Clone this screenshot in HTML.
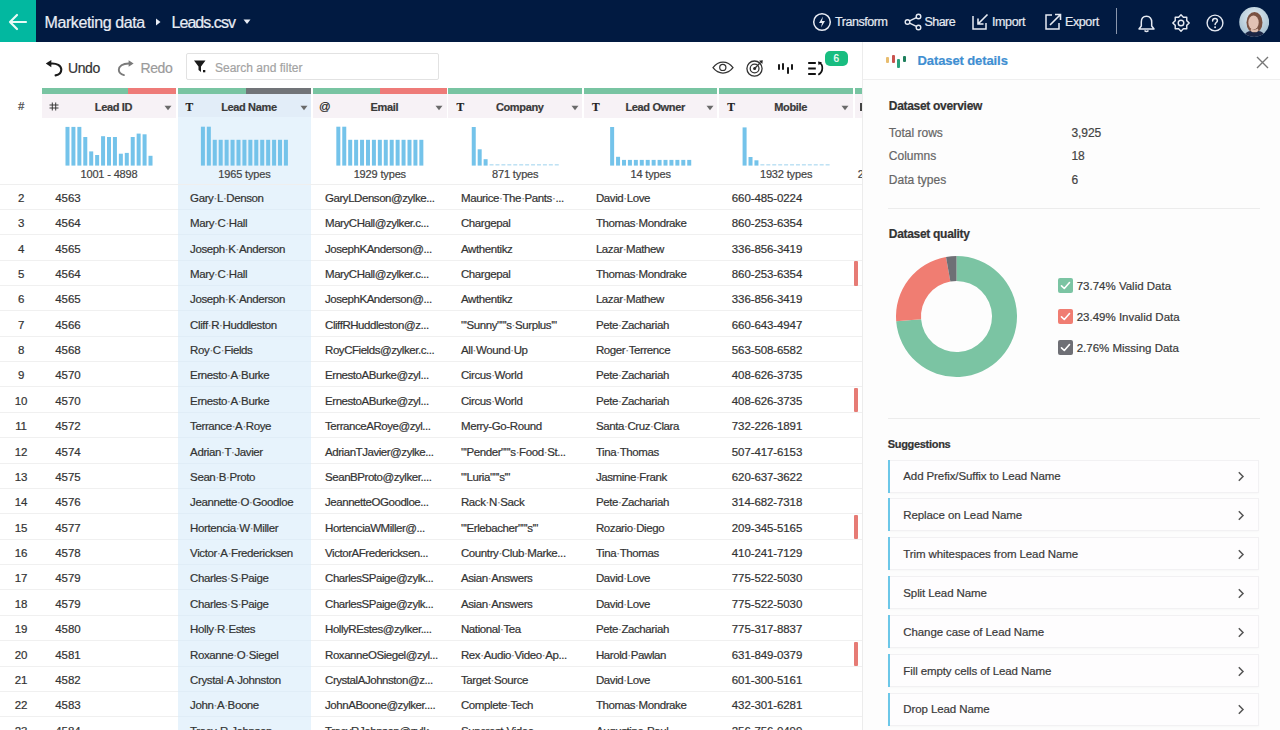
<!DOCTYPE html>
<html><head><meta charset="utf-8"><title>Leads.csv</title>
<style>
html,body{margin:0;padding:0;width:1280px;height:730px;overflow:hidden;background:#fff;font-family:"Liberation Sans", sans-serif;}
.r{position:absolute;}
.t{position:absolute;white-space:nowrap;font-family:"Liberation Sans", sans-serif;-webkit-text-stroke:0.2px currentColor;}
.d{color:#888;}
</style></head><body>
<div class="r" style="left:0.00px;top:0.00px;width:1280.00px;height:42.00px;background:#011a41;"></div><div class="r" style="left:0.00px;top:0.00px;width:36.00px;height:42.00px;background:#02b8a0;"></div><svg class="r" style="left:8px;top:13px" width="20" height="18" viewBox="0 0 20 18"><path d="M2 9 H18 M9 2 L2 9 L9 16" fill="none" stroke="#e8fbf6" stroke-width="2.2" stroke-linecap="round" stroke-linejoin="round"/></svg><div class="t" style="left:44.50px;top:15.36px;font-size:16px;line-height:16px;color:#e9edf5;letter-spacing:-0.4px;">Marketing data</div><svg class="r" style="left:154px;top:17px" width="8" height="10" viewBox="0 0 8 10"><path d="M2 1.5 L6.5 5 L2 8.5Z" fill="#e9edf5"/></svg><div class="t" style="left:171.50px;top:15.36px;font-size:16px;line-height:16px;color:#e9edf5;letter-spacing:-0.95px;">Leads.csv</div><svg class="r" style="left:242px;top:18px" width="10" height="8" viewBox="0 0 10 8"><path d="M1.5 1.5 H8.5 L5 6Z" fill="#e9edf5"/></svg><svg class="r" style="left:812px;top:12px" width="20" height="20" viewBox="0 0 20 20"><circle cx="10" cy="10" r="8.3" fill="none" stroke="#e6eaf2" stroke-width="1.5"/><path d="M11 4.5 L7 11 H10 L9 15.5 L13 9 H10Z" fill="#e6eaf2"/></svg><div class="t" style="left:835.00px;top:16.02px;font-size:12.5px;line-height:12.5px;color:#e6eaf2;letter-spacing:-0.45px;">Transform</div><svg class="r" style="left:904px;top:13px" width="19" height="18" viewBox="0 0 19 18"><circle cx="14.5" cy="3.5" r="2.3" fill="none" stroke="#e6eaf2" stroke-width="1.4"/><circle cx="14.5" cy="14.5" r="2.3" fill="none" stroke="#e6eaf2" stroke-width="1.4"/><circle cx="3.5" cy="9" r="2.3" fill="none" stroke="#e6eaf2" stroke-width="1.4"/><path d="M5.6 7.9 L12.4 4.6 M5.6 10.1 L12.4 13.4" stroke="#e6eaf2" stroke-width="1.4"/></svg><div class="t" style="left:924.50px;top:16.02px;font-size:12.5px;line-height:12.5px;color:#e6eaf2;letter-spacing:-0.55px;">Share</div><svg class="r" style="left:972px;top:13px" width="17" height="17" viewBox="0 0 17 17"><path d="M1 3 V16 H14 V10" fill="none" stroke="#e6eaf2" stroke-width="1.5"/><path d="M15.5 1.5 L6 11 M6 5.5 V11 H11.5" fill="none" stroke="#e6eaf2" stroke-width="1.6"/></svg><div class="t" style="left:992.00px;top:16.02px;font-size:12.5px;line-height:12.5px;color:#e6eaf2;letter-spacing:-0.4px;">Import</div><svg class="r" style="left:1045px;top:13px" width="17" height="17" viewBox="0 0 17 17"><path d="M7 2 H1 V16 H14 V10" fill="none" stroke="#e6eaf2" stroke-width="1.5"/><path d="M5 12 L15.5 1.5 M10 1.5 H15.5 V7" fill="none" stroke="#e6eaf2" stroke-width="1.6"/></svg><div class="t" style="left:1065.00px;top:16.02px;font-size:12.5px;line-height:12.5px;color:#e6eaf2;letter-spacing:-0.4px;">Export</div><div class="r" style="left:1116.00px;top:8.00px;width:1.30px;height:26.00px;background:#8a96ac;"></div><svg class="r" style="left:1137px;top:14.5px" width="19" height="18" viewBox="0 0 19 18"><path d="M9.5 1.2 C6 1.2 4.3 3.8 4.3 7 V11 L2 14 H17 L14.7 11 V7 C14.7 3.8 13 1.2 9.5 1.2Z" fill="none" stroke="#e6eaf2" stroke-width="1.5" stroke-linejoin="round"/><path d="M7.5 15.5 Q9.5 17.5 11.5 15.5" fill="none" stroke="#e6eaf2" stroke-width="1.5"/></svg><svg class="r" style="left:1171.5px;top:14px" width="18" height="18" viewBox="0 0 18 18"><polygon points="9.00,0.80 11.37,3.27 14.80,3.20 14.73,6.63 17.20,9.00 14.73,11.37 14.80,14.80 11.37,14.73 9.00,17.20 6.63,14.73 3.20,14.80 3.27,11.37 0.80,9.00 3.27,6.63 3.20,3.20 6.63,3.27" fill="none" stroke="#e6eaf2" stroke-width="1.4" stroke-linejoin="round"/><circle cx="9" cy="9" r="2.8" fill="none" stroke="#e6eaf2" stroke-width="1.4"/></svg><svg class="r" style="left:1205.5px;top:14px" width="18" height="18" viewBox="0 0 18 18"><circle cx="9" cy="9" r="7.9" fill="none" stroke="#e6eaf2" stroke-width="1.4"/><path d="M6.6 7 C6.6 5.3 7.7 4.5 9 4.5 C10.4 4.5 11.4 5.4 11.4 6.7 C11.4 8.4 9.1 8.6 9.1 10.6" fill="none" stroke="#e6eaf2" stroke-width="1.5" stroke-linecap="round"/><circle cx="9.1" cy="13.2" r="0.95" fill="#e6eaf2"/></svg><svg class="r" style="left:1239px;top:7px" width="30" height="30" viewBox="0 0 30 30"><defs><clipPath id="av"><circle cx="15.2" cy="15" r="15"/></clipPath><radialGradient id="avbg" cx="0.5" cy="0.35" r="0.6"><stop offset="0" stop-color="#e6eef2"/><stop offset="1" stop-color="#a9c2d2"/></radialGradient></defs><g clip-path="url(#av)"><rect width="30" height="30" fill="url(#avbg)"/><ellipse cx="15.5" cy="15.5" rx="8" ry="10.5" fill="#7a5242"/><ellipse cx="14.5" cy="15.5" rx="5.2" ry="7" fill="#e2c2b4"/><path d="M12 21 Q15 24 19 21.5 L19.5 25 H11.5Z" fill="#dcbcae"/><path d="M4 31 Q6 24.5 11.5 24 Q15.5 27 19.5 24 Q25 24.5 27 31Z" fill="#1b2545"/></g></svg><div class="r" style="left:0.00px;top:42.00px;width:862.00px;height:46.00px;background:#ffffff;"></div><svg class="r" style="left:40px;top:54px" width="100" height="28" viewBox="40 54 100 28"><path d="M45.8 63.6 L51.3 60 L51.3 67.2Z" fill="#1a1a1a"/><path d="M50 63.6 C57 62.8 61.3 65.8 61.3 69.6 C61.3 72.8 58.8 75 55.6 75.4" fill="none" stroke="#1a1a1a" stroke-width="2.1" stroke-linecap="round"/><path d="M133.6 63.5 L128.6 60.2 L128.6 66.8Z" fill="#7a7a7a"/><path d="M129.5 63.5 C122.5 63.2 118.8 66.5 118.8 69.8 C118.8 72.3 120.8 74.2 124 75.1" fill="none" stroke="#7a7a7a" stroke-width="1.9" stroke-linecap="round"/></svg><div class="t" style="left:68.00px;top:60.95px;font-size:14px;line-height:14px;color:#333;letter-spacing:-0.4px;">Undo</div><div class="t" style="left:140.50px;top:60.95px;font-size:14px;line-height:14px;color:#9b9b9b;letter-spacing:-0.4px;">Redo</div><div class="r" style="left:186.00px;top:53.00px;width:253.00px;height:27.00px;background:#fff;border:1px solid #e2e2e2;box-sizing:border-box;border-radius:2px;"></div><svg class="r" style="left:193px;top:59px" width="15" height="15" viewBox="0 0 15 15"><path d="M1 1.5 H12.5 L8 7.5 V13 L5.5 11 V7.5Z" fill="#1a1a1a"/><rect x="10" y="11" width="2.3" height="2.3" fill="#1a1a1a"/></svg><div class="t" style="left:215.00px;top:61.64px;font-size:12px;line-height:12px;color:#a3a3a3;">Search and filter</div><svg class="r" style="left:708px;top:54px" width="60" height="26" viewBox="0 0 60 26"><path d="M5 13.6 C8.5 9 11.5 8.2 15 8.2 C18.5 8.2 21.5 9 25 13.6 C21.5 18.2 18.5 19 15 19 C11.5 19 8.5 18.2 5 13.6Z" fill="none" stroke="#333" stroke-width="1.25"/><circle cx="14.8" cy="13.4" r="3.1" fill="none" stroke="#333" stroke-width="1.2"/><circle cx="46.5" cy="14.6" r="7.6" fill="none" stroke="#333" stroke-width="1.3"/><circle cx="46.6" cy="14.5" r="4.4" fill="none" stroke="#333" stroke-width="1.3"/><circle cx="46.6" cy="14.5" r="1.5" fill="#222"/><path d="M46.6 14.5 L52.5 8.5" stroke="#333" stroke-width="1.3"/><path d="M51 6.8 L54.8 6.3 L54.3 10 Z" fill="#222"/></svg><div class="r" style="left:777.60px;top:64.20px;width:2.20px;height:6.30px;background:#1a1a1a;border-radius:1px;"></div><div class="r" style="left:782.20px;top:63.40px;width:2.20px;height:7.10px;background:#1a1a1a;border-radius:1px;"></div><div class="r" style="left:786.50px;top:67.00px;width:2.20px;height:6.90px;background:#1a1a1a;border-radius:1px;"></div><div class="r" style="left:791.00px;top:63.90px;width:2.20px;height:6.10px;background:#1a1a1a;border-radius:1px;"></div><svg class="r" style="left:807px;top:61px" width="18" height="15" viewBox="0 0 18 15"><rect x="1.2" y="1" width="7.6" height="2" fill="#111"/><rect x="1.2" y="6.5" width="7.6" height="2" fill="#111"/><rect x="1.2" y="12" width="7.6" height="2" fill="#111"/><path d="M12.3 1.8 C16.2 3.3 16.8 10.5 11.3 13.8" fill="none" stroke="#111" stroke-width="1.7"/><path d="M11 0.4 L15 1.3 L11.6 4.2 Z" fill="#111"/></svg><div class="r" style="left:824.50px;top:51.00px;width:23.50px;height:15.00px;background:#18bd80;border-radius:5px;"></div><div class="t" style="left:636.30px;width:400px;text-align:center;top:54.03px;font-size:10px;line-height:10px;color:#ffffff;">6</div><div class="r" style="left:42.20px;top:88.00px;width:85.50px;height:6.00px;background:#78c4a2;"></div><div class="r" style="left:127.70px;top:88.00px;width:48.10px;height:6.00px;background:#ee7b78;"></div><div class="r" style="left:42.20px;top:94.00px;width:133.60px;height:23.80px;background:#f7f2f6;"></div><div class="r" style="left:177.62px;top:88.00px;width:68.80px;height:6.00px;background:#78c4a2;"></div><div class="r" style="left:246.42px;top:88.00px;width:64.80px;height:6.00px;background:#717478;"></div><div class="r" style="left:177.62px;top:94.00px;width:133.60px;height:23.80px;background:#e2edf8;"></div><div class="r" style="left:313.04px;top:88.00px;width:66.80px;height:6.00px;background:#78c4a2;"></div><div class="r" style="left:379.84px;top:88.00px;width:66.80px;height:6.00px;background:#ee7b78;"></div><div class="r" style="left:313.04px;top:94.00px;width:133.60px;height:23.80px;background:#f7f2f6;"></div><div class="r" style="left:448.46px;top:88.00px;width:133.60px;height:6.00px;background:#78c4a2;"></div><div class="r" style="left:448.46px;top:94.00px;width:133.60px;height:23.80px;background:#f7f2f6;"></div><div class="r" style="left:583.88px;top:88.00px;width:133.60px;height:6.00px;background:#78c4a2;"></div><div class="r" style="left:583.88px;top:94.00px;width:133.60px;height:23.80px;background:#f7f2f6;"></div><div class="r" style="left:719.30px;top:88.00px;width:133.60px;height:6.00px;background:#78c4a2;"></div><div class="r" style="left:719.30px;top:94.00px;width:133.60px;height:23.80px;background:#f7f2f6;"></div><div class="r" style="left:854.72px;top:88.00px;width:7.28px;height:6.00px;background:#78c4a2;"></div><div class="r" style="left:854.72px;top:94.00px;width:7.28px;height:23.80px;background:#f7f2f6;"></div><div class="r" style="left:177.62px;top:117.00px;width:133.60px;height:613.00px;background:#e7f3fc;"></div><div class="r" style="left:0.00px;top:94.00px;width:42.20px;height:23.00px;background:#fff;"></div><div class="t" style="left:-179.00px;width:400px;text-align:center;top:100.89px;font-size:11px;line-height:11px;color:#444;font-style:italic;">#</div><svg class="r" style="left:49.20px;top:102px" width="10" height="9" viewBox="0 0 10 9"><path d="M3.3 0.5 V8.5 M6.7 0.5 V8.5 M0.5 3 H9.5 M0.5 6 H9.5" stroke="#333" stroke-width="0.95"/></svg><div class="t" style="left:-86.50px;width:400px;text-align:center;top:101.79px;font-size:11px;line-height:11px;color:#3a3a3a;font-weight:700;letter-spacing:-0.35px;">Lead ID</div><svg class="r" style="left:164.30px;top:105px" width="8" height="6" viewBox="0 0 8 6"><path d="M0.5 0.8 H7.5 L4 5.2Z" fill="#6a6a6a"/></svg><div class="t" style="left:185.62px;top:101.67px;font-size:11.5px;line-height:11.5px;color:#222;font-weight:700;font-family:'Liberation Serif',serif;">T</div><div class="t" style="left:48.92px;width:400px;text-align:center;top:101.79px;font-size:11px;line-height:11px;color:#3a3a3a;font-weight:700;letter-spacing:-0.35px;">Lead Name</div><svg class="r" style="left:299.72px;top:105px" width="8" height="6" viewBox="0 0 8 6"><path d="M0.5 0.8 H7.5 L4 5.2Z" fill="#6a6a6a"/></svg><div class="t" style="left:319.04px;top:101.07px;font-size:11.5px;line-height:11.5px;color:#222;">@</div><div class="t" style="left:184.34px;width:400px;text-align:center;top:101.79px;font-size:11px;line-height:11px;color:#3a3a3a;font-weight:700;letter-spacing:-0.35px;">Email</div><svg class="r" style="left:435.14px;top:105px" width="8" height="6" viewBox="0 0 8 6"><path d="M0.5 0.8 H7.5 L4 5.2Z" fill="#6a6a6a"/></svg><div class="t" style="left:456.46px;top:101.67px;font-size:11.5px;line-height:11.5px;color:#222;font-weight:700;font-family:'Liberation Serif',serif;">T</div><div class="t" style="left:319.76px;width:400px;text-align:center;top:101.79px;font-size:11px;line-height:11px;color:#3a3a3a;font-weight:700;letter-spacing:-0.35px;">Company</div><svg class="r" style="left:570.56px;top:105px" width="8" height="6" viewBox="0 0 8 6"><path d="M0.5 0.8 H7.5 L4 5.2Z" fill="#6a6a6a"/></svg><div class="t" style="left:591.88px;top:101.67px;font-size:11.5px;line-height:11.5px;color:#222;font-weight:700;font-family:'Liberation Serif',serif;">T</div><div class="t" style="left:455.18px;width:400px;text-align:center;top:101.79px;font-size:11px;line-height:11px;color:#3a3a3a;font-weight:700;letter-spacing:-0.35px;">Lead Owner</div><svg class="r" style="left:705.98px;top:105px" width="8" height="6" viewBox="0 0 8 6"><path d="M0.5 0.8 H7.5 L4 5.2Z" fill="#6a6a6a"/></svg><div class="t" style="left:727.30px;top:101.67px;font-size:11.5px;line-height:11.5px;color:#222;font-weight:700;font-family:'Liberation Serif',serif;">T</div><div class="t" style="left:590.60px;width:400px;text-align:center;top:101.79px;font-size:11px;line-height:11px;color:#3a3a3a;font-weight:700;letter-spacing:-0.35px;">Mobile</div><svg class="r" style="left:841.40px;top:105px" width="8" height="6" viewBox="0 0 8 6"><path d="M0.5 0.8 H7.5 L4 5.2Z" fill="#6a6a6a"/></svg><div class="t" style="left:862.72px;top:101.67px;font-size:11.5px;line-height:11.5px;color:#222;font-weight:700;font-family:'Liberation Serif',serif;">T</div><svg class="r" style="left:40px;top:120px" width="822" height="50" viewBox="0 0 822 50"><rect x="25.49" y="6.90" width="4" height="38.70" fill="#74c3ea"/><rect x="31.42" y="6.90" width="4" height="38.70" fill="#74c3ea"/><rect x="37.35" y="6.90" width="4" height="38.70" fill="#74c3ea"/><rect x="43.28" y="17.00" width="4" height="28.60" fill="#74c3ea"/><rect x="49.21" y="31.40" width="4" height="14.20" fill="#74c3ea"/><rect x="55.14" y="35.00" width="4" height="10.60" fill="#74c3ea"/><rect x="61.07" y="16.20" width="4" height="29.40" fill="#74c3ea"/><rect x="67.00" y="17.00" width="4" height="28.60" fill="#74c3ea"/><rect x="72.93" y="17.00" width="4" height="28.60" fill="#74c3ea"/><rect x="78.86" y="33.70" width="4" height="11.90" fill="#74c3ea"/><rect x="84.79" y="32.90" width="4" height="12.70" fill="#74c3ea"/><rect x="90.72" y="17.00" width="4" height="28.60" fill="#74c3ea"/><rect x="96.65" y="13.60" width="4" height="32.00" fill="#74c3ea"/><rect x="102.58" y="14.30" width="4" height="31.30" fill="#74c3ea"/><rect x="108.51" y="35.80" width="4" height="9.80" fill="#74c3ea"/></svg><div class="t" style="left:-91.00px;width:400px;text-align:center;top:168.89px;font-size:11px;line-height:11px;color:#444;letter-spacing:-0.15px;">1001 - 4898</div><svg class="r" style="left:40px;top:120px" width="822" height="50" viewBox="0 0 822 50"><rect x="160.91" y="6.70" width="4" height="38.90" fill="#74c3ea"/><rect x="166.84" y="6.70" width="4" height="38.90" fill="#74c3ea"/><rect x="172.77" y="19.80" width="4" height="25.80" fill="#74c3ea"/><rect x="178.70" y="19.80" width="4" height="25.80" fill="#74c3ea"/><rect x="184.63" y="19.80" width="4" height="25.80" fill="#74c3ea"/><rect x="190.56" y="19.80" width="4" height="25.80" fill="#74c3ea"/><rect x="196.49" y="19.80" width="4" height="25.80" fill="#74c3ea"/><rect x="202.42" y="19.80" width="4" height="25.80" fill="#74c3ea"/><rect x="208.35" y="19.80" width="4" height="25.80" fill="#74c3ea"/><rect x="214.28" y="19.80" width="4" height="25.80" fill="#74c3ea"/><rect x="220.21" y="19.80" width="4" height="25.80" fill="#74c3ea"/><rect x="226.14" y="19.80" width="4" height="25.80" fill="#74c3ea"/><rect x="232.07" y="19.80" width="4" height="25.80" fill="#74c3ea"/><rect x="238.00" y="19.80" width="4" height="25.80" fill="#74c3ea"/><rect x="243.93" y="19.80" width="4" height="25.80" fill="#74c3ea"/></svg><div class="t" style="left:44.42px;width:400px;text-align:center;top:168.89px;font-size:11px;line-height:11px;color:#444;letter-spacing:-0.15px;">1965 types</div><svg class="r" style="left:40px;top:120px" width="822" height="50" viewBox="0 0 822 50"><rect x="296.33" y="6.70" width="4" height="38.90" fill="#74c3ea"/><rect x="302.26" y="6.70" width="4" height="38.90" fill="#74c3ea"/><rect x="308.19" y="19.80" width="4" height="25.80" fill="#74c3ea"/><rect x="314.12" y="19.80" width="4" height="25.80" fill="#74c3ea"/><rect x="320.05" y="19.80" width="4" height="25.80" fill="#74c3ea"/><rect x="325.98" y="19.80" width="4" height="25.80" fill="#74c3ea"/><rect x="331.91" y="19.80" width="4" height="25.80" fill="#74c3ea"/><rect x="337.84" y="19.80" width="4" height="25.80" fill="#74c3ea"/><rect x="343.77" y="19.80" width="4" height="25.80" fill="#74c3ea"/><rect x="349.70" y="19.80" width="4" height="25.80" fill="#74c3ea"/><rect x="355.63" y="19.80" width="4" height="25.80" fill="#74c3ea"/><rect x="361.56" y="19.80" width="4" height="25.80" fill="#74c3ea"/><rect x="367.49" y="19.80" width="4" height="25.80" fill="#74c3ea"/><rect x="373.42" y="19.80" width="4" height="25.80" fill="#74c3ea"/><rect x="379.35" y="19.80" width="4" height="25.80" fill="#74c3ea"/></svg><div class="t" style="left:179.84px;width:400px;text-align:center;top:168.89px;font-size:11px;line-height:11px;color:#444;letter-spacing:-0.15px;">1929 types</div><svg class="r" style="left:40px;top:120px" width="822" height="50" viewBox="0 0 822 50"><rect x="431.75" y="7.00" width="4" height="38.60" fill="#74c3ea"/><rect x="437.68" y="29.30" width="4" height="16.30" fill="#74c3ea"/><rect x="443.61" y="39.20" width="4" height="6.40" fill="#74c3ea"/><rect x="449.54" y="44.3" width="4" height="1.1" fill="#a6d6ef"/><rect x="455.47" y="44.3" width="4" height="1.1" fill="#a6d6ef"/><rect x="461.40" y="44.3" width="4" height="1.1" fill="#a6d6ef"/><rect x="467.33" y="44.3" width="4" height="1.1" fill="#a6d6ef"/><rect x="473.26" y="44.3" width="4" height="1.1" fill="#a6d6ef"/><rect x="479.19" y="44.3" width="4" height="1.1" fill="#a6d6ef"/><rect x="485.12" y="44.3" width="4" height="1.1" fill="#a6d6ef"/><rect x="491.05" y="44.3" width="4" height="1.1" fill="#a6d6ef"/><rect x="496.98" y="44.3" width="4" height="1.1" fill="#a6d6ef"/><rect x="502.91" y="44.3" width="4" height="1.1" fill="#a6d6ef"/><rect x="508.84" y="44.3" width="4" height="1.1" fill="#a6d6ef"/><rect x="514.77" y="44.3" width="4" height="1.1" fill="#a6d6ef"/></svg><div class="t" style="left:315.26px;width:400px;text-align:center;top:168.89px;font-size:11px;line-height:11px;color:#444;letter-spacing:-0.15px;">871 types</div><svg class="r" style="left:40px;top:120px" width="822" height="50" viewBox="0 0 822 50"><rect x="570.13" y="7.00" width="4" height="38.60" fill="#74c3ea"/><rect x="576.06" y="36.80" width="4" height="8.80" fill="#74c3ea"/><rect x="582.00" y="39.90" width="4" height="5.70" fill="#74c3ea"/><rect x="587.92" y="39.90" width="4" height="5.70" fill="#74c3ea"/><rect x="593.86" y="39.90" width="4" height="5.70" fill="#74c3ea"/><rect x="599.78" y="39.90" width="4" height="5.70" fill="#74c3ea"/><rect x="605.72" y="39.90" width="4" height="5.70" fill="#74c3ea"/><rect x="611.64" y="39.90" width="4" height="5.70" fill="#74c3ea"/><rect x="617.58" y="39.90" width="4" height="5.70" fill="#74c3ea"/><rect x="623.50" y="39.90" width="4" height="5.70" fill="#74c3ea"/><rect x="629.43" y="39.90" width="4" height="5.70" fill="#74c3ea"/><rect x="635.37" y="39.90" width="4" height="5.70" fill="#74c3ea"/><rect x="641.29" y="39.90" width="4" height="5.70" fill="#74c3ea"/><rect x="647.23" y="39.90" width="4" height="5.70" fill="#74c3ea"/></svg><div class="t" style="left:450.68px;width:400px;text-align:center;top:168.89px;font-size:11px;line-height:11px;color:#444;letter-spacing:-0.15px;">14 types</div><svg class="r" style="left:40px;top:120px" width="822" height="50" viewBox="0 0 822 50"><rect x="702.59" y="7.40" width="4" height="38.20" fill="#74c3ea"/><rect x="708.52" y="37.00" width="4" height="8.60" fill="#74c3ea"/><rect x="714.45" y="40.30" width="4" height="5.30" fill="#74c3ea"/><rect x="720.38" y="44.3" width="4" height="1.1" fill="#a6d6ef"/><rect x="726.31" y="44.3" width="4" height="1.1" fill="#a6d6ef"/><rect x="732.24" y="44.3" width="4" height="1.1" fill="#a6d6ef"/><rect x="738.17" y="44.3" width="4" height="1.1" fill="#a6d6ef"/><rect x="744.10" y="44.3" width="4" height="1.1" fill="#a6d6ef"/><rect x="750.03" y="44.3" width="4" height="1.1" fill="#a6d6ef"/><rect x="755.96" y="44.3" width="4" height="1.1" fill="#a6d6ef"/><rect x="761.89" y="44.3" width="4" height="1.1" fill="#a6d6ef"/><rect x="767.82" y="44.3" width="4" height="1.1" fill="#a6d6ef"/><rect x="773.75" y="44.3" width="4" height="1.1" fill="#a6d6ef"/><rect x="779.68" y="44.3" width="4" height="1.1" fill="#a6d6ef"/><rect x="785.61" y="44.3" width="4" height="1.1" fill="#a6d6ef"/></svg><div class="t" style="left:586.10px;width:400px;text-align:center;top:168.89px;font-size:11px;line-height:11px;color:#444;letter-spacing:-0.15px;">1932 types</div><div class="t" style="left:857.72px;top:168.89px;font-size:11px;line-height:11px;color:#444;">2</div><div class="r" style="left:860.30px;top:102.50px;width:1.80px;height:8.80px;background:#444;"></div><div class="r" style="left:0.00px;top:183.60px;width:862.00px;height:1.20px;background:#efefef;"></div><div class="r" style="left:0.00px;top:209.00px;width:862.00px;height:1.00px;background:#f0f0f0;"></div><div class="r" style="left:177.62px;top:209.00px;width:133.60px;height:1.00px;background:#e0edf7;"></div><div class="t" style="left:-179.00px;width:400px;text-align:center;top:192.77px;font-size:11.5px;line-height:11.5px;color:#333;letter-spacing:-0.22px;">2</div><div class="t" style="left:55.20px;top:192.77px;font-size:11.5px;line-height:11.5px;color:#333;">4563</div><div class="t" style="left:190.12px;top:192.77px;font-size:11.5px;line-height:11.5px;color:#333;letter-spacing:-0.4px;">Gary<span class="d">·</span>L<span class="d">·</span>Denson</div><div class="t" style="left:325.04px;top:192.77px;font-size:11.5px;line-height:11.5px;color:#333;letter-spacing:-0.45px;">GaryLDenson@zylke...</div><div class="t" style="left:460.96px;top:192.77px;font-size:11.5px;line-height:11.5px;color:#333;letter-spacing:-0.4px;">Maurice<span class="d">·</span>The<span class="d">·</span>Pants<span class="d">·</span>...</div><div class="t" style="left:595.88px;top:192.77px;font-size:11.5px;line-height:11.5px;color:#333;letter-spacing:-0.4px;">David<span class="d">·</span>Love</div><div class="t" style="left:731.80px;top:192.77px;font-size:11.5px;line-height:11.5px;color:#333;letter-spacing:-0.1px;">660-485-0224</div><div class="r" style="left:0.00px;top:234.00px;width:862.00px;height:1.00px;background:#f0f0f0;"></div><div class="r" style="left:177.62px;top:234.00px;width:133.60px;height:1.00px;background:#e0edf7;"></div><div class="t" style="left:-179.00px;width:400px;text-align:center;top:218.15px;font-size:11.5px;line-height:11.5px;color:#333;letter-spacing:-0.22px;">3</div><div class="t" style="left:55.20px;top:218.15px;font-size:11.5px;line-height:11.5px;color:#333;">4564</div><div class="t" style="left:190.12px;top:218.15px;font-size:11.5px;line-height:11.5px;color:#333;letter-spacing:-0.4px;">Mary<span class="d">·</span>C<span class="d">·</span>Hall</div><div class="t" style="left:325.04px;top:218.15px;font-size:11.5px;line-height:11.5px;color:#333;letter-spacing:-0.45px;">MaryCHall@zylker.c...</div><div class="t" style="left:460.96px;top:218.15px;font-size:11.5px;line-height:11.5px;color:#333;letter-spacing:-0.4px;">Chargepal</div><div class="t" style="left:595.88px;top:218.15px;font-size:11.5px;line-height:11.5px;color:#333;letter-spacing:-0.4px;">Thomas<span class="d">·</span>Mondrake</div><div class="t" style="left:731.80px;top:218.15px;font-size:11.5px;line-height:11.5px;color:#333;letter-spacing:-0.1px;">860-253-6354</div><div class="r" style="left:0.00px;top:260.00px;width:862.00px;height:1.00px;background:#f0f0f0;"></div><div class="r" style="left:177.62px;top:260.00px;width:133.60px;height:1.00px;background:#e0edf7;"></div><div class="t" style="left:-179.00px;width:400px;text-align:center;top:243.53px;font-size:11.5px;line-height:11.5px;color:#333;letter-spacing:-0.22px;">4</div><div class="t" style="left:55.20px;top:243.53px;font-size:11.5px;line-height:11.5px;color:#333;">4565</div><div class="t" style="left:190.12px;top:243.53px;font-size:11.5px;line-height:11.5px;color:#333;letter-spacing:-0.4px;">Joseph<span class="d">·</span>K<span class="d">·</span>Anderson</div><div class="t" style="left:325.04px;top:243.53px;font-size:11.5px;line-height:11.5px;color:#333;letter-spacing:-0.45px;">JosephKAnderson@...</div><div class="t" style="left:460.96px;top:243.53px;font-size:11.5px;line-height:11.5px;color:#333;letter-spacing:-0.4px;">Awthentikz</div><div class="t" style="left:595.88px;top:243.53px;font-size:11.5px;line-height:11.5px;color:#333;letter-spacing:-0.4px;">Lazar<span class="d">·</span>Mathew</div><div class="t" style="left:731.80px;top:243.53px;font-size:11.5px;line-height:11.5px;color:#333;letter-spacing:-0.1px;">336-856-3419</div><div class="r" style="left:0.00px;top:285.00px;width:862.00px;height:1.00px;background:#f0f0f0;"></div><div class="r" style="left:177.62px;top:285.00px;width:133.60px;height:1.00px;background:#e0edf7;"></div><div class="t" style="left:-179.00px;width:400px;text-align:center;top:268.91px;font-size:11.5px;line-height:11.5px;color:#333;letter-spacing:-0.22px;">5</div><div class="t" style="left:55.20px;top:268.91px;font-size:11.5px;line-height:11.5px;color:#333;">4564</div><div class="t" style="left:190.12px;top:268.91px;font-size:11.5px;line-height:11.5px;color:#333;letter-spacing:-0.4px;">Mary<span class="d">·</span>C<span class="d">·</span>Hall</div><div class="t" style="left:325.04px;top:268.91px;font-size:11.5px;line-height:11.5px;color:#333;letter-spacing:-0.45px;">MaryCHall@zylker.c...</div><div class="t" style="left:460.96px;top:268.91px;font-size:11.5px;line-height:11.5px;color:#333;letter-spacing:-0.4px;">Chargepal</div><div class="t" style="left:595.88px;top:268.91px;font-size:11.5px;line-height:11.5px;color:#333;letter-spacing:-0.4px;">Thomas<span class="d">·</span>Mondrake</div><div class="t" style="left:731.80px;top:268.91px;font-size:11.5px;line-height:11.5px;color:#333;letter-spacing:-0.1px;">860-253-6354</div><div class="r" style="left:854.10px;top:260.94px;width:3.50px;height:24.60px;background:#e67b75;border-radius:1px;"></div><div class="r" style="left:0.00px;top:310.00px;width:862.00px;height:1.00px;background:#f0f0f0;"></div><div class="r" style="left:177.62px;top:310.00px;width:133.60px;height:1.00px;background:#e0edf7;"></div><div class="t" style="left:-179.00px;width:400px;text-align:center;top:294.29px;font-size:11.5px;line-height:11.5px;color:#333;letter-spacing:-0.22px;">6</div><div class="t" style="left:55.20px;top:294.29px;font-size:11.5px;line-height:11.5px;color:#333;">4565</div><div class="t" style="left:190.12px;top:294.29px;font-size:11.5px;line-height:11.5px;color:#333;letter-spacing:-0.4px;">Joseph<span class="d">·</span>K<span class="d">·</span>Anderson</div><div class="t" style="left:325.04px;top:294.29px;font-size:11.5px;line-height:11.5px;color:#333;letter-spacing:-0.45px;">JosephKAnderson@...</div><div class="t" style="left:460.96px;top:294.29px;font-size:11.5px;line-height:11.5px;color:#333;letter-spacing:-0.4px;">Awthentikz</div><div class="t" style="left:595.88px;top:294.29px;font-size:11.5px;line-height:11.5px;color:#333;letter-spacing:-0.4px;">Lazar<span class="d">·</span>Mathew</div><div class="t" style="left:731.80px;top:294.29px;font-size:11.5px;line-height:11.5px;color:#333;letter-spacing:-0.1px;">336-856-3419</div><div class="r" style="left:0.00px;top:336.00px;width:862.00px;height:1.00px;background:#f0f0f0;"></div><div class="r" style="left:177.62px;top:336.00px;width:133.60px;height:1.00px;background:#e0edf7;"></div><div class="t" style="left:-179.00px;width:400px;text-align:center;top:319.67px;font-size:11.5px;line-height:11.5px;color:#333;letter-spacing:-0.22px;">7</div><div class="t" style="left:55.20px;top:319.67px;font-size:11.5px;line-height:11.5px;color:#333;">4566</div><div class="t" style="left:190.12px;top:319.67px;font-size:11.5px;line-height:11.5px;color:#333;letter-spacing:-0.4px;">Cliff<span class="d">·</span>R<span class="d">·</span>Huddleston</div><div class="t" style="left:325.04px;top:319.67px;font-size:11.5px;line-height:11.5px;color:#333;letter-spacing:-0.45px;">CliffRHuddleston@z...</div><div class="t" style="left:460.96px;top:319.67px;font-size:11.5px;line-height:11.5px;color:#333;letter-spacing:-0.4px;">"'Sunny""'s<span class="d">·</span>Surplus'"</div><div class="t" style="left:595.88px;top:319.67px;font-size:11.5px;line-height:11.5px;color:#333;letter-spacing:-0.4px;">Pete<span class="d">·</span>Zachariah</div><div class="t" style="left:731.80px;top:319.67px;font-size:11.5px;line-height:11.5px;color:#333;letter-spacing:-0.1px;">660-643-4947</div><div class="r" style="left:0.00px;top:361.00px;width:862.00px;height:1.00px;background:#f0f0f0;"></div><div class="r" style="left:177.62px;top:361.00px;width:133.60px;height:1.00px;background:#e0edf7;"></div><div class="t" style="left:-179.00px;width:400px;text-align:center;top:345.05px;font-size:11.5px;line-height:11.5px;color:#333;letter-spacing:-0.22px;">8</div><div class="t" style="left:55.20px;top:345.05px;font-size:11.5px;line-height:11.5px;color:#333;">4568</div><div class="t" style="left:190.12px;top:345.05px;font-size:11.5px;line-height:11.5px;color:#333;letter-spacing:-0.4px;">Roy<span class="d">·</span>C<span class="d">·</span>Fields</div><div class="t" style="left:325.04px;top:345.05px;font-size:11.5px;line-height:11.5px;color:#333;letter-spacing:-0.45px;">RoyCFields@zylker.c...</div><div class="t" style="left:460.96px;top:345.05px;font-size:11.5px;line-height:11.5px;color:#333;letter-spacing:-0.4px;">All<span class="d">·</span>Wound<span class="d">·</span>Up</div><div class="t" style="left:595.88px;top:345.05px;font-size:11.5px;line-height:11.5px;color:#333;letter-spacing:-0.4px;">Roger<span class="d">·</span>Terrence</div><div class="t" style="left:731.80px;top:345.05px;font-size:11.5px;line-height:11.5px;color:#333;letter-spacing:-0.1px;">563-508-6582</div><div class="r" style="left:0.00px;top:386.00px;width:862.00px;height:1.00px;background:#f0f0f0;"></div><div class="r" style="left:177.62px;top:386.00px;width:133.60px;height:1.00px;background:#e0edf7;"></div><div class="t" style="left:-179.00px;width:400px;text-align:center;top:370.43px;font-size:11.5px;line-height:11.5px;color:#333;letter-spacing:-0.22px;">9</div><div class="t" style="left:55.20px;top:370.43px;font-size:11.5px;line-height:11.5px;color:#333;">4570</div><div class="t" style="left:190.12px;top:370.43px;font-size:11.5px;line-height:11.5px;color:#333;letter-spacing:-0.4px;">Ernesto<span class="d">·</span>A<span class="d">·</span>Burke</div><div class="t" style="left:325.04px;top:370.43px;font-size:11.5px;line-height:11.5px;color:#333;letter-spacing:-0.45px;">ErnestoABurke@zyl...</div><div class="t" style="left:460.96px;top:370.43px;font-size:11.5px;line-height:11.5px;color:#333;letter-spacing:-0.4px;">Circus<span class="d">·</span>World</div><div class="t" style="left:595.88px;top:370.43px;font-size:11.5px;line-height:11.5px;color:#333;letter-spacing:-0.4px;">Pete<span class="d">·</span>Zachariah</div><div class="t" style="left:731.80px;top:370.43px;font-size:11.5px;line-height:11.5px;color:#333;letter-spacing:-0.1px;">408-626-3735</div><div class="r" style="left:0.00px;top:412.00px;width:862.00px;height:1.00px;background:#f0f0f0;"></div><div class="r" style="left:177.62px;top:412.00px;width:133.60px;height:1.00px;background:#e0edf7;"></div><div class="t" style="left:-179.00px;width:400px;text-align:center;top:395.81px;font-size:11.5px;line-height:11.5px;color:#333;letter-spacing:-0.22px;">10</div><div class="t" style="left:55.20px;top:395.81px;font-size:11.5px;line-height:11.5px;color:#333;">4570</div><div class="t" style="left:190.12px;top:395.81px;font-size:11.5px;line-height:11.5px;color:#333;letter-spacing:-0.4px;">Ernesto<span class="d">·</span>A<span class="d">·</span>Burke</div><div class="t" style="left:325.04px;top:395.81px;font-size:11.5px;line-height:11.5px;color:#333;letter-spacing:-0.45px;">ErnestoABurke@zyl...</div><div class="t" style="left:460.96px;top:395.81px;font-size:11.5px;line-height:11.5px;color:#333;letter-spacing:-0.4px;">Circus<span class="d">·</span>World</div><div class="t" style="left:595.88px;top:395.81px;font-size:11.5px;line-height:11.5px;color:#333;letter-spacing:-0.4px;">Pete<span class="d">·</span>Zachariah</div><div class="t" style="left:731.80px;top:395.81px;font-size:11.5px;line-height:11.5px;color:#333;letter-spacing:-0.1px;">408-626-3735</div><div class="r" style="left:854.10px;top:387.84px;width:3.50px;height:24.60px;background:#e67b75;border-radius:1px;"></div><div class="r" style="left:0.00px;top:437.00px;width:862.00px;height:1.00px;background:#f0f0f0;"></div><div class="r" style="left:177.62px;top:437.00px;width:133.60px;height:1.00px;background:#e0edf7;"></div><div class="t" style="left:-179.00px;width:400px;text-align:center;top:421.19px;font-size:11.5px;line-height:11.5px;color:#333;letter-spacing:-0.22px;">11</div><div class="t" style="left:55.20px;top:421.19px;font-size:11.5px;line-height:11.5px;color:#333;">4572</div><div class="t" style="left:190.12px;top:421.19px;font-size:11.5px;line-height:11.5px;color:#333;letter-spacing:-0.4px;">Terrance<span class="d">·</span>A<span class="d">·</span>Roye</div><div class="t" style="left:325.04px;top:421.19px;font-size:11.5px;line-height:11.5px;color:#333;letter-spacing:-0.45px;">TerranceARoye@zyl...</div><div class="t" style="left:460.96px;top:421.19px;font-size:11.5px;line-height:11.5px;color:#333;letter-spacing:-0.4px;">Merry-Go-Round</div><div class="t" style="left:595.88px;top:421.19px;font-size:11.5px;line-height:11.5px;color:#333;letter-spacing:-0.4px;">Santa<span class="d">·</span>Cruz<span class="d">·</span>Clara</div><div class="t" style="left:731.80px;top:421.19px;font-size:11.5px;line-height:11.5px;color:#333;letter-spacing:-0.1px;">732-226-1891</div><div class="r" style="left:0.00px;top:463.00px;width:862.00px;height:1.00px;background:#f0f0f0;"></div><div class="r" style="left:177.62px;top:463.00px;width:133.60px;height:1.00px;background:#e0edf7;"></div><div class="t" style="left:-179.00px;width:400px;text-align:center;top:446.57px;font-size:11.5px;line-height:11.5px;color:#333;letter-spacing:-0.22px;">12</div><div class="t" style="left:55.20px;top:446.57px;font-size:11.5px;line-height:11.5px;color:#333;">4574</div><div class="t" style="left:190.12px;top:446.57px;font-size:11.5px;line-height:11.5px;color:#333;letter-spacing:-0.4px;">Adrian<span class="d">·</span>T<span class="d">·</span>Javier</div><div class="t" style="left:325.04px;top:446.57px;font-size:11.5px;line-height:11.5px;color:#333;letter-spacing:-0.45px;">AdrianTJavier@zylke...</div><div class="t" style="left:460.96px;top:446.57px;font-size:11.5px;line-height:11.5px;color:#333;letter-spacing:-0.4px;">"'Pender""'s<span class="d">·</span>Food<span class="d">·</span>St...</div><div class="t" style="left:595.88px;top:446.57px;font-size:11.5px;line-height:11.5px;color:#333;letter-spacing:-0.4px;">Tina<span class="d">·</span>Thomas</div><div class="t" style="left:731.80px;top:446.57px;font-size:11.5px;line-height:11.5px;color:#333;letter-spacing:-0.1px;">507-417-6153</div><div class="r" style="left:0.00px;top:488.00px;width:862.00px;height:1.00px;background:#f0f0f0;"></div><div class="r" style="left:177.62px;top:488.00px;width:133.60px;height:1.00px;background:#e0edf7;"></div><div class="t" style="left:-179.00px;width:400px;text-align:center;top:471.95px;font-size:11.5px;line-height:11.5px;color:#333;letter-spacing:-0.22px;">13</div><div class="t" style="left:55.20px;top:471.95px;font-size:11.5px;line-height:11.5px;color:#333;">4575</div><div class="t" style="left:190.12px;top:471.95px;font-size:11.5px;line-height:11.5px;color:#333;letter-spacing:-0.4px;">Sean<span class="d">·</span>B<span class="d">·</span>Proto</div><div class="t" style="left:325.04px;top:471.95px;font-size:11.5px;line-height:11.5px;color:#333;letter-spacing:-0.45px;">SeanBProto@zylker....</div><div class="t" style="left:460.96px;top:471.95px;font-size:11.5px;line-height:11.5px;color:#333;letter-spacing:-0.4px;">"'Luria""'s'"</div><div class="t" style="left:595.88px;top:471.95px;font-size:11.5px;line-height:11.5px;color:#333;letter-spacing:-0.4px;">Jasmine<span class="d">·</span>Frank</div><div class="t" style="left:731.80px;top:471.95px;font-size:11.5px;line-height:11.5px;color:#333;letter-spacing:-0.1px;">620-637-3622</div><div class="r" style="left:0.00px;top:513.00px;width:862.00px;height:1.00px;background:#f0f0f0;"></div><div class="r" style="left:177.62px;top:513.00px;width:133.60px;height:1.00px;background:#e0edf7;"></div><div class="t" style="left:-179.00px;width:400px;text-align:center;top:497.33px;font-size:11.5px;line-height:11.5px;color:#333;letter-spacing:-0.22px;">14</div><div class="t" style="left:55.20px;top:497.33px;font-size:11.5px;line-height:11.5px;color:#333;">4576</div><div class="t" style="left:190.12px;top:497.33px;font-size:11.5px;line-height:11.5px;color:#333;letter-spacing:-0.4px;">Jeannette<span class="d">·</span>O<span class="d">·</span>Goodloe</div><div class="t" style="left:325.04px;top:497.33px;font-size:11.5px;line-height:11.5px;color:#333;letter-spacing:-0.45px;">JeannetteOGoodloe...</div><div class="t" style="left:460.96px;top:497.33px;font-size:11.5px;line-height:11.5px;color:#333;letter-spacing:-0.4px;">Rack<span class="d">·</span>N<span class="d">·</span>Sack</div><div class="t" style="left:595.88px;top:497.33px;font-size:11.5px;line-height:11.5px;color:#333;letter-spacing:-0.4px;">Pete<span class="d">·</span>Zachariah</div><div class="t" style="left:731.80px;top:497.33px;font-size:11.5px;line-height:11.5px;color:#333;letter-spacing:-0.1px;">314-682-7318</div><div class="r" style="left:0.00px;top:539.00px;width:862.00px;height:1.00px;background:#f0f0f0;"></div><div class="r" style="left:177.62px;top:539.00px;width:133.60px;height:1.00px;background:#e0edf7;"></div><div class="t" style="left:-179.00px;width:400px;text-align:center;top:522.71px;font-size:11.5px;line-height:11.5px;color:#333;letter-spacing:-0.22px;">15</div><div class="t" style="left:55.20px;top:522.71px;font-size:11.5px;line-height:11.5px;color:#333;">4577</div><div class="t" style="left:190.12px;top:522.71px;font-size:11.5px;line-height:11.5px;color:#333;letter-spacing:-0.4px;">Hortencia<span class="d">·</span>W<span class="d">·</span>Miller</div><div class="t" style="left:325.04px;top:522.71px;font-size:11.5px;line-height:11.5px;color:#333;letter-spacing:-0.45px;">HortenciaWMiller@...</div><div class="t" style="left:460.96px;top:522.71px;font-size:11.5px;line-height:11.5px;color:#333;letter-spacing:-0.4px;">"'Erlebacher""'s'"</div><div class="t" style="left:595.88px;top:522.71px;font-size:11.5px;line-height:11.5px;color:#333;letter-spacing:-0.4px;">Rozario<span class="d">·</span>Diego</div><div class="t" style="left:731.80px;top:522.71px;font-size:11.5px;line-height:11.5px;color:#333;letter-spacing:-0.1px;">209-345-5165</div><div class="r" style="left:854.10px;top:514.74px;width:3.50px;height:24.60px;background:#e67b75;border-radius:1px;"></div><div class="r" style="left:0.00px;top:564.00px;width:862.00px;height:1.00px;background:#f0f0f0;"></div><div class="r" style="left:177.62px;top:564.00px;width:133.60px;height:1.00px;background:#e0edf7;"></div><div class="t" style="left:-179.00px;width:400px;text-align:center;top:548.09px;font-size:11.5px;line-height:11.5px;color:#333;letter-spacing:-0.22px;">16</div><div class="t" style="left:55.20px;top:548.09px;font-size:11.5px;line-height:11.5px;color:#333;">4578</div><div class="t" style="left:190.12px;top:548.09px;font-size:11.5px;line-height:11.5px;color:#333;letter-spacing:-0.4px;">Victor<span class="d">·</span>A<span class="d">·</span>Fredericksen</div><div class="t" style="left:325.04px;top:548.09px;font-size:11.5px;line-height:11.5px;color:#333;letter-spacing:-0.45px;">VictorAFredericksen...</div><div class="t" style="left:460.96px;top:548.09px;font-size:11.5px;line-height:11.5px;color:#333;letter-spacing:-0.4px;">Country<span class="d">·</span>Club<span class="d">·</span>Marke...</div><div class="t" style="left:595.88px;top:548.09px;font-size:11.5px;line-height:11.5px;color:#333;letter-spacing:-0.4px;">Tina<span class="d">·</span>Thomas</div><div class="t" style="left:731.80px;top:548.09px;font-size:11.5px;line-height:11.5px;color:#333;letter-spacing:-0.1px;">410-241-7129</div><div class="r" style="left:0.00px;top:589.00px;width:862.00px;height:1.00px;background:#f0f0f0;"></div><div class="r" style="left:177.62px;top:589.00px;width:133.60px;height:1.00px;background:#e0edf7;"></div><div class="t" style="left:-179.00px;width:400px;text-align:center;top:573.47px;font-size:11.5px;line-height:11.5px;color:#333;letter-spacing:-0.22px;">17</div><div class="t" style="left:55.20px;top:573.47px;font-size:11.5px;line-height:11.5px;color:#333;">4579</div><div class="t" style="left:190.12px;top:573.47px;font-size:11.5px;line-height:11.5px;color:#333;letter-spacing:-0.4px;">Charles<span class="d">·</span>S<span class="d">·</span>Paige</div><div class="t" style="left:325.04px;top:573.47px;font-size:11.5px;line-height:11.5px;color:#333;letter-spacing:-0.45px;">CharlesSPaige@zylk...</div><div class="t" style="left:460.96px;top:573.47px;font-size:11.5px;line-height:11.5px;color:#333;letter-spacing:-0.4px;">Asian<span class="d">·</span>Answers</div><div class="t" style="left:595.88px;top:573.47px;font-size:11.5px;line-height:11.5px;color:#333;letter-spacing:-0.4px;">David<span class="d">·</span>Love</div><div class="t" style="left:731.80px;top:573.47px;font-size:11.5px;line-height:11.5px;color:#333;letter-spacing:-0.1px;">775-522-5030</div><div class="r" style="left:0.00px;top:615.00px;width:862.00px;height:1.00px;background:#f0f0f0;"></div><div class="r" style="left:177.62px;top:615.00px;width:133.60px;height:1.00px;background:#e0edf7;"></div><div class="t" style="left:-179.00px;width:400px;text-align:center;top:598.85px;font-size:11.5px;line-height:11.5px;color:#333;letter-spacing:-0.22px;">18</div><div class="t" style="left:55.20px;top:598.85px;font-size:11.5px;line-height:11.5px;color:#333;">4579</div><div class="t" style="left:190.12px;top:598.85px;font-size:11.5px;line-height:11.5px;color:#333;letter-spacing:-0.4px;">Charles<span class="d">·</span>S<span class="d">·</span>Paige</div><div class="t" style="left:325.04px;top:598.85px;font-size:11.5px;line-height:11.5px;color:#333;letter-spacing:-0.45px;">CharlesSPaige@zylk...</div><div class="t" style="left:460.96px;top:598.85px;font-size:11.5px;line-height:11.5px;color:#333;letter-spacing:-0.4px;">Asian<span class="d">·</span>Answers</div><div class="t" style="left:595.88px;top:598.85px;font-size:11.5px;line-height:11.5px;color:#333;letter-spacing:-0.4px;">David<span class="d">·</span>Love</div><div class="t" style="left:731.80px;top:598.85px;font-size:11.5px;line-height:11.5px;color:#333;letter-spacing:-0.1px;">775-522-5030</div><div class="r" style="left:0.00px;top:640.00px;width:862.00px;height:1.00px;background:#f0f0f0;"></div><div class="r" style="left:177.62px;top:640.00px;width:133.60px;height:1.00px;background:#e0edf7;"></div><div class="t" style="left:-179.00px;width:400px;text-align:center;top:624.23px;font-size:11.5px;line-height:11.5px;color:#333;letter-spacing:-0.22px;">19</div><div class="t" style="left:55.20px;top:624.23px;font-size:11.5px;line-height:11.5px;color:#333;">4580</div><div class="t" style="left:190.12px;top:624.23px;font-size:11.5px;line-height:11.5px;color:#333;letter-spacing:-0.4px;">Holly<span class="d">·</span>R<span class="d">·</span>Estes</div><div class="t" style="left:325.04px;top:624.23px;font-size:11.5px;line-height:11.5px;color:#333;letter-spacing:-0.45px;">HollyREstes@zylker....</div><div class="t" style="left:460.96px;top:624.23px;font-size:11.5px;line-height:11.5px;color:#333;letter-spacing:-0.4px;">National<span class="d">·</span>Tea</div><div class="t" style="left:595.88px;top:624.23px;font-size:11.5px;line-height:11.5px;color:#333;letter-spacing:-0.4px;">Pete<span class="d">·</span>Zachariah</div><div class="t" style="left:731.80px;top:624.23px;font-size:11.5px;line-height:11.5px;color:#333;letter-spacing:-0.1px;">775-317-8837</div><div class="r" style="left:0.00px;top:666.00px;width:862.00px;height:1.00px;background:#f0f0f0;"></div><div class="r" style="left:177.62px;top:666.00px;width:133.60px;height:1.00px;background:#e0edf7;"></div><div class="t" style="left:-179.00px;width:400px;text-align:center;top:649.61px;font-size:11.5px;line-height:11.5px;color:#333;letter-spacing:-0.22px;">20</div><div class="t" style="left:55.20px;top:649.61px;font-size:11.5px;line-height:11.5px;color:#333;">4581</div><div class="t" style="left:190.12px;top:649.61px;font-size:11.5px;line-height:11.5px;color:#333;letter-spacing:-0.4px;">Roxanne<span class="d">·</span>O<span class="d">·</span>Siegel</div><div class="t" style="left:325.04px;top:649.61px;font-size:11.5px;line-height:11.5px;color:#333;letter-spacing:-0.45px;">RoxanneOSiegel@zyl...</div><div class="t" style="left:460.96px;top:649.61px;font-size:11.5px;line-height:11.5px;color:#333;letter-spacing:-0.4px;">Rex<span class="d">·</span>Audio<span class="d">·</span>Video<span class="d">·</span>Ap...</div><div class="t" style="left:595.88px;top:649.61px;font-size:11.5px;line-height:11.5px;color:#333;letter-spacing:-0.4px;">Harold<span class="d">·</span>Pawlan</div><div class="t" style="left:731.80px;top:649.61px;font-size:11.5px;line-height:11.5px;color:#333;letter-spacing:-0.1px;">631-849-0379</div><div class="r" style="left:854.10px;top:641.64px;width:3.50px;height:24.60px;background:#e67b75;border-radius:1px;"></div><div class="r" style="left:0.00px;top:691.00px;width:862.00px;height:1.00px;background:#f0f0f0;"></div><div class="r" style="left:177.62px;top:691.00px;width:133.60px;height:1.00px;background:#e0edf7;"></div><div class="t" style="left:-179.00px;width:400px;text-align:center;top:674.99px;font-size:11.5px;line-height:11.5px;color:#333;letter-spacing:-0.22px;">21</div><div class="t" style="left:55.20px;top:674.99px;font-size:11.5px;line-height:11.5px;color:#333;">4582</div><div class="t" style="left:190.12px;top:674.99px;font-size:11.5px;line-height:11.5px;color:#333;letter-spacing:-0.4px;">Crystal<span class="d">·</span>A<span class="d">·</span>Johnston</div><div class="t" style="left:325.04px;top:674.99px;font-size:11.5px;line-height:11.5px;color:#333;letter-spacing:-0.45px;">CrystalAJohnston@z...</div><div class="t" style="left:460.96px;top:674.99px;font-size:11.5px;line-height:11.5px;color:#333;letter-spacing:-0.4px;">Target<span class="d">·</span>Source</div><div class="t" style="left:595.88px;top:674.99px;font-size:11.5px;line-height:11.5px;color:#333;letter-spacing:-0.4px;">David<span class="d">·</span>Love</div><div class="t" style="left:731.80px;top:674.99px;font-size:11.5px;line-height:11.5px;color:#333;letter-spacing:-0.1px;">601-300-5161</div><div class="r" style="left:0.00px;top:716.00px;width:862.00px;height:1.00px;background:#f0f0f0;"></div><div class="r" style="left:177.62px;top:716.00px;width:133.60px;height:1.00px;background:#e0edf7;"></div><div class="t" style="left:-179.00px;width:400px;text-align:center;top:700.37px;font-size:11.5px;line-height:11.5px;color:#333;letter-spacing:-0.22px;">22</div><div class="t" style="left:55.20px;top:700.37px;font-size:11.5px;line-height:11.5px;color:#333;">4583</div><div class="t" style="left:190.12px;top:700.37px;font-size:11.5px;line-height:11.5px;color:#333;letter-spacing:-0.4px;">John<span class="d">·</span>A<span class="d">·</span>Boone</div><div class="t" style="left:325.04px;top:700.37px;font-size:11.5px;line-height:11.5px;color:#333;letter-spacing:-0.45px;">JohnABoone@zylker....</div><div class="t" style="left:460.96px;top:700.37px;font-size:11.5px;line-height:11.5px;color:#333;letter-spacing:-0.4px;">Complete<span class="d">·</span>Tech</div><div class="t" style="left:595.88px;top:700.37px;font-size:11.5px;line-height:11.5px;color:#333;letter-spacing:-0.4px;">Thomas<span class="d">·</span>Mondrake</div><div class="t" style="left:731.80px;top:700.37px;font-size:11.5px;line-height:11.5px;color:#333;letter-spacing:-0.1px;">432-301-6281</div><div class="r" style="left:0.00px;top:742.00px;width:862.00px;height:1.00px;background:#f0f0f0;"></div><div class="r" style="left:177.62px;top:742.00px;width:133.60px;height:1.00px;background:#e0edf7;"></div><div class="t" style="left:-179.00px;width:400px;text-align:center;top:725.75px;font-size:11.5px;line-height:11.5px;color:#333;letter-spacing:-0.22px;">23</div><div class="t" style="left:55.20px;top:725.75px;font-size:11.5px;line-height:11.5px;color:#333;">4584</div><div class="t" style="left:190.12px;top:725.75px;font-size:11.5px;line-height:11.5px;color:#333;letter-spacing:-0.4px;">Tracy<span class="d">·</span>R<span class="d">·</span>Johnson</div><div class="t" style="left:325.04px;top:725.75px;font-size:11.5px;line-height:11.5px;color:#333;letter-spacing:-0.45px;">TracyRJohnson@zylk...</div><div class="t" style="left:460.96px;top:725.75px;font-size:11.5px;line-height:11.5px;color:#333;letter-spacing:-0.4px;">Suncrest<span class="d">·</span>Video</div><div class="t" style="left:595.88px;top:725.75px;font-size:11.5px;line-height:11.5px;color:#333;letter-spacing:-0.4px;">Augustine<span class="d">·</span>Paul</div><div class="t" style="left:731.80px;top:725.75px;font-size:11.5px;line-height:11.5px;color:#333;letter-spacing:-0.1px;">256-756-0499</div><div class="r" style="left:862.00px;top:42.00px;width:418.00px;height:688.00px;background:#fdfdfd;border-left:1px solid #ececec;box-sizing:border-box;"></div><div class="r" style="left:862.00px;top:42.00px;width:418.00px;height:38.00px;background:#ffffff;border-left:1px solid #ececec;box-sizing:border-box;border-bottom:1px solid #efefef;"></div><div class="r" style="left:886.20px;top:56.80px;width:2.80px;height:6.30px;background:#e8bd6f;border-radius:1px;"></div><div class="r" style="left:892.40px;top:55.30px;width:2.80px;height:7.80px;background:#c9534f;border-radius:1px;"></div><div class="r" style="left:897.20px;top:59.20px;width:2.80px;height:8.60px;background:#2aa27c;border-radius:1px;"></div><div class="r" style="left:903.40px;top:56.00px;width:2.80px;height:6.30px;background:#1e7f5c;border-radius:1px;"></div><div class="t" style="left:917.50px;top:53.70px;font-size:13px;line-height:13px;color:#3f8fd2;font-weight:700;letter-spacing:-0.1px;">Dataset details</div><svg class="r" style="left:1256px;top:56px" width="13" height="13" viewBox="0 0 13 13"><path d="M1 1 L12 12 M12 1 L1 12" stroke="#777" stroke-width="1.4"/></svg><div class="t" style="left:888.80px;top:99.64px;font-size:12px;line-height:12px;color:#333;font-weight:700;letter-spacing:-0.3px;">Dataset overview</div><div class="t" style="left:888.80px;top:126.84px;font-size:12px;line-height:12px;color:#666;">Total rows</div><div class="t" style="left:1071.50px;top:126.84px;font-size:12px;line-height:12px;color:#444;letter-spacing:-0.1px;">3,925</div><div class="t" style="left:888.80px;top:150.49px;font-size:12px;line-height:12px;color:#666;">Columns</div><div class="t" style="left:1071.50px;top:150.49px;font-size:12px;line-height:12px;color:#444;letter-spacing:-0.1px;">18</div><div class="t" style="left:888.80px;top:174.14px;font-size:12px;line-height:12px;color:#666;">Data types</div><div class="t" style="left:1071.50px;top:174.14px;font-size:12px;line-height:12px;color:#444;letter-spacing:-0.1px;">6</div><div class="r" style="left:888.00px;top:208.00px;width:372.00px;height:1.00px;background:#ececec;"></div><div class="t" style="left:888.80px;top:228.14px;font-size:12px;line-height:12px;color:#333;font-weight:700;letter-spacing:-0.3px;">Dataset quality</div><svg class="r" style="left:862px;top:245px" width="200" height="150" viewBox="0 0 200 150"><path d="M94.50 11.00 A60.5 60.5 0 1 1 34.19 76.28 L59.11 74.31 A35.5 35.5 0 1 0 94.50 36.00Z" fill="#7bc4a3"/><path d="M34.19 76.28 A60.5 60.5 0 0 1 84.02 11.91 L88.35 36.54 A35.5 35.5 0 0 0 59.11 74.31Z" fill="#f07d72"/><path d="M84.02 11.91 A60.5 60.5 0 0 1 94.50 11.00 L94.50 36.00 A35.5 35.5 0 0 0 88.35 36.54Z" fill="#6e6f75"/></svg><div class="r" style="left:1058.00px;top:278.00px;width:15.00px;height:15.00px;background:#7bc4a3;border-radius:2px;"></div><svg class="r" style="left:1058px;top:278.00px" width="15" height="15" viewBox="0 0 15 15"><path d="M3.5 7.8 L6.3 10.5 L11.5 4.5" fill="none" stroke="#fff" stroke-width="1.6" stroke-linecap="round" stroke-linejoin="round"/></svg><div class="t" style="left:1076.70px;top:280.87px;font-size:11.5px;line-height:11.5px;color:#3a3a3a;">73.74% Valid Data</div><div class="r" style="left:1058.00px;top:309.20px;width:15.00px;height:15.00px;background:#f07d72;border-radius:2px;"></div><svg class="r" style="left:1058px;top:309.20px" width="15" height="15" viewBox="0 0 15 15"><path d="M3.5 7.8 L6.3 10.5 L11.5 4.5" fill="none" stroke="#fff" stroke-width="1.6" stroke-linecap="round" stroke-linejoin="round"/></svg><div class="t" style="left:1076.70px;top:312.07px;font-size:11.5px;line-height:11.5px;color:#3a3a3a;">23.49% Invalid Data</div><div class="r" style="left:1058.00px;top:340.40px;width:15.00px;height:15.00px;background:#6e6f75;border-radius:2px;"></div><svg class="r" style="left:1058px;top:340.40px" width="15" height="15" viewBox="0 0 15 15"><path d="M3.5 7.8 L6.3 10.5 L11.5 4.5" fill="none" stroke="#fff" stroke-width="1.6" stroke-linecap="round" stroke-linejoin="round"/></svg><div class="t" style="left:1076.70px;top:343.27px;font-size:11.5px;line-height:11.5px;color:#3a3a3a;">2.76% Missing Data</div><div class="r" style="left:888.00px;top:418.00px;width:372.00px;height:1.00px;background:#ececec;"></div><div class="t" style="left:887.70px;top:438.69px;font-size:11px;line-height:11px;color:#333;font-weight:700;letter-spacing:-0.3px;">Suggestions</div><div class="r" style="left:887.70px;top:459.50px;width:371.50px;height:33.00px;background:#fefdfe;border:1px solid #f2f1f3;border-left:none;box-sizing:border-box;box-shadow:0 1px 2px rgba(0,0,0,0.025);"></div><div class="r" style="left:887.90px;top:459.50px;width:2.60px;height:33.00px;background:#6cc7e8;"></div><div class="t" style="left:903.30px;top:471.07px;font-size:11.5px;line-height:11.5px;color:#3a3a3a;letter-spacing:-0.1px;">Add Prefix/Suffix to Lead Name</div><svg class="r" style="left:1237px;top:471.00px" width="8" height="11" viewBox="0 0 8 11"><path d="M1.8 1.2 L6 5.5 L1.8 9.8" fill="none" stroke="#555" stroke-width="1.5"/></svg><div class="r" style="left:887.70px;top:498.40px;width:371.50px;height:33.00px;background:#fefdfe;border:1px solid #f2f1f3;border-left:none;box-sizing:border-box;box-shadow:0 1px 2px rgba(0,0,0,0.025);"></div><div class="r" style="left:887.90px;top:498.40px;width:2.60px;height:33.00px;background:#6cc7e8;"></div><div class="t" style="left:903.30px;top:509.97px;font-size:11.5px;line-height:11.5px;color:#3a3a3a;letter-spacing:-0.1px;">Replace on Lead Name</div><svg class="r" style="left:1237px;top:509.90px" width="8" height="11" viewBox="0 0 8 11"><path d="M1.8 1.2 L6 5.5 L1.8 9.8" fill="none" stroke="#555" stroke-width="1.5"/></svg><div class="r" style="left:887.70px;top:537.30px;width:371.50px;height:33.00px;background:#fefdfe;border:1px solid #f2f1f3;border-left:none;box-sizing:border-box;box-shadow:0 1px 2px rgba(0,0,0,0.025);"></div><div class="r" style="left:887.90px;top:537.30px;width:2.60px;height:33.00px;background:#6cc7e8;"></div><div class="t" style="left:903.30px;top:548.87px;font-size:11.5px;line-height:11.5px;color:#3a3a3a;letter-spacing:-0.1px;">Trim whitespaces from Lead Name</div><svg class="r" style="left:1237px;top:548.80px" width="8" height="11" viewBox="0 0 8 11"><path d="M1.8 1.2 L6 5.5 L1.8 9.8" fill="none" stroke="#555" stroke-width="1.5"/></svg><div class="r" style="left:887.70px;top:576.20px;width:371.50px;height:33.00px;background:#fefdfe;border:1px solid #f2f1f3;border-left:none;box-sizing:border-box;box-shadow:0 1px 2px rgba(0,0,0,0.025);"></div><div class="r" style="left:887.90px;top:576.20px;width:2.60px;height:33.00px;background:#6cc7e8;"></div><div class="t" style="left:903.30px;top:587.77px;font-size:11.5px;line-height:11.5px;color:#3a3a3a;letter-spacing:-0.1px;">Split Lead Name</div><svg class="r" style="left:1237px;top:587.70px" width="8" height="11" viewBox="0 0 8 11"><path d="M1.8 1.2 L6 5.5 L1.8 9.8" fill="none" stroke="#555" stroke-width="1.5"/></svg><div class="r" style="left:887.70px;top:615.10px;width:371.50px;height:33.00px;background:#fefdfe;border:1px solid #f2f1f3;border-left:none;box-sizing:border-box;box-shadow:0 1px 2px rgba(0,0,0,0.025);"></div><div class="r" style="left:887.90px;top:615.10px;width:2.60px;height:33.00px;background:#6cc7e8;"></div><div class="t" style="left:903.30px;top:626.67px;font-size:11.5px;line-height:11.5px;color:#3a3a3a;letter-spacing:-0.1px;">Change case of Lead Name</div><svg class="r" style="left:1237px;top:626.60px" width="8" height="11" viewBox="0 0 8 11"><path d="M1.8 1.2 L6 5.5 L1.8 9.8" fill="none" stroke="#555" stroke-width="1.5"/></svg><div class="r" style="left:887.70px;top:654.00px;width:371.50px;height:33.00px;background:#fefdfe;border:1px solid #f2f1f3;border-left:none;box-sizing:border-box;box-shadow:0 1px 2px rgba(0,0,0,0.025);"></div><div class="r" style="left:887.90px;top:654.00px;width:2.60px;height:33.00px;background:#6cc7e8;"></div><div class="t" style="left:903.30px;top:665.57px;font-size:11.5px;line-height:11.5px;color:#3a3a3a;letter-spacing:-0.1px;">Fill empty cells of Lead Name</div><svg class="r" style="left:1237px;top:665.50px" width="8" height="11" viewBox="0 0 8 11"><path d="M1.8 1.2 L6 5.5 L1.8 9.8" fill="none" stroke="#555" stroke-width="1.5"/></svg><div class="r" style="left:887.70px;top:692.90px;width:371.50px;height:33.00px;background:#fefdfe;border:1px solid #f2f1f3;border-left:none;box-sizing:border-box;box-shadow:0 1px 2px rgba(0,0,0,0.025);"></div><div class="r" style="left:887.90px;top:692.90px;width:2.60px;height:33.00px;background:#6cc7e8;"></div><div class="t" style="left:903.30px;top:704.47px;font-size:11.5px;line-height:11.5px;color:#3a3a3a;letter-spacing:-0.1px;">Drop Lead Name</div><svg class="r" style="left:1237px;top:704.40px" width="8" height="11" viewBox="0 0 8 11"><path d="M1.8 1.2 L6 5.5 L1.8 9.8" fill="none" stroke="#555" stroke-width="1.5"/></svg>
</body></html>
